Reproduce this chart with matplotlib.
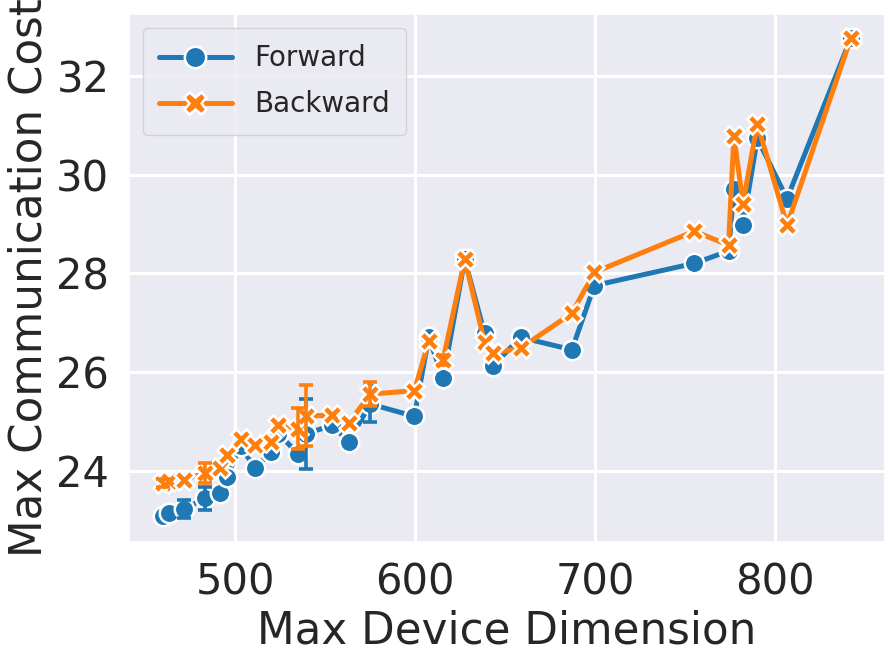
import matplotlib
matplotlib.use("Agg")
import matplotlib.pyplot as plt
import seaborn as sns

# max device dimension (shared by both directions)
dims = [460, 463, 471.5, 483.5, 491.5, 495.5, 503, 511, 520, 524, 535, 539.5,
        554, 563, 575, 599.5, 607.5, 615.5, 627.5, 638.5, 643, 658.5, 687,
        699.5, 755, 774, 777, 782, 790, 806.5, 842]
forward = [23.08, 23.15, 23.22, 23.44, 23.54, 23.88, 24.50, 24.05, 24.37, 24.75,
           24.34, 24.75, 24.92, 24.58, 25.35, 25.10, 26.70, 25.87, 28.28, 26.78,
           26.12, 26.70, 26.45, 27.75, 28.20, 28.45, 29.70, 28.97, 30.73, 29.51,
           32.77]
backward = [23.75, 23.80, 23.82, 23.95, 24.06, 24.32, 24.65, 24.52, 24.58, 24.92,
            24.85, 25.11, 25.12, 24.96, 25.55, 25.62, 26.62, 26.25, 28.28, 26.60,
            26.38, 26.48, 27.19, 28.02, 28.85, 28.57, 30.79, 29.41, 31.03, 28.97,
            32.77]
forward_err = [0, 0, 0.18, 0.23, 0, 0, 0, 0, 0, 0, 0, 0.71, 0, 0, 0.37, 0, 0,
               0, 0, 0, 0, 0, 0, 0, 0, 0, 0, 0, 0, 0, 0]
backward_err = [0.08, 0, 0, 0.2, 0, 0, 0, 0, 0, 0, 0.41, 0.62, 0, 0, 0.25, 0, 0,
                0.1, 0, 0, 0, 0, 0, 0, 0, 0, 0, 0, 0, 0, 0]

sns.set_theme(style="darkgrid")
plt.rcParams["font.family"] = ["DejaVu Sans"]

fig, ax = plt.subplots(figsize=(8.88, 6.57), dpi=100)
fig.subplots_adjust(left=0.145, right=0.997, bottom=0.175, top=0.979)

series = [("Forward", forward, forward_err, "#1f77b4", "o", 14),
          ("Backward", backward, backward_err, "#ff7f0e", "X", 15)]
for name, ys, errs, c, m, ms in series:
    ax.plot(dims, ys, color=c, lw=3.6, marker=m, ms=ms, mfc=c,
            mec="white", mew=1.8, label=name)
    ex = [x for x, e in zip(dims, errs) if e > 0]
    ey = [y for y, e in zip(ys, errs) if e > 0]
    ee = [e for e in errs if e > 0]
    ax.errorbar(ex, ey, yerr=ee, fmt="none", ecolor=c, elinewidth=2.6,
                capsize=5, capthick=2.6)

ax.set_yticks([24, 26, 28, 30, 32])
ax.set_xticks([500, 600, 700, 800])
ax.tick_params(labelsize=30, pad=8)
ax.set_xlabel("Max Device Dimension", fontsize=31.4)
ax.set_ylabel("Max Communication Cost", fontsize=31.4)
ax.grid(lw=2.2)
ax.legend(loc="upper left", fontsize=20, handlelength=2.6, borderpad=0.6,
          labelspacing=0.65, markerscale=1.1)

fig.savefig("out.png", dpi=100)
